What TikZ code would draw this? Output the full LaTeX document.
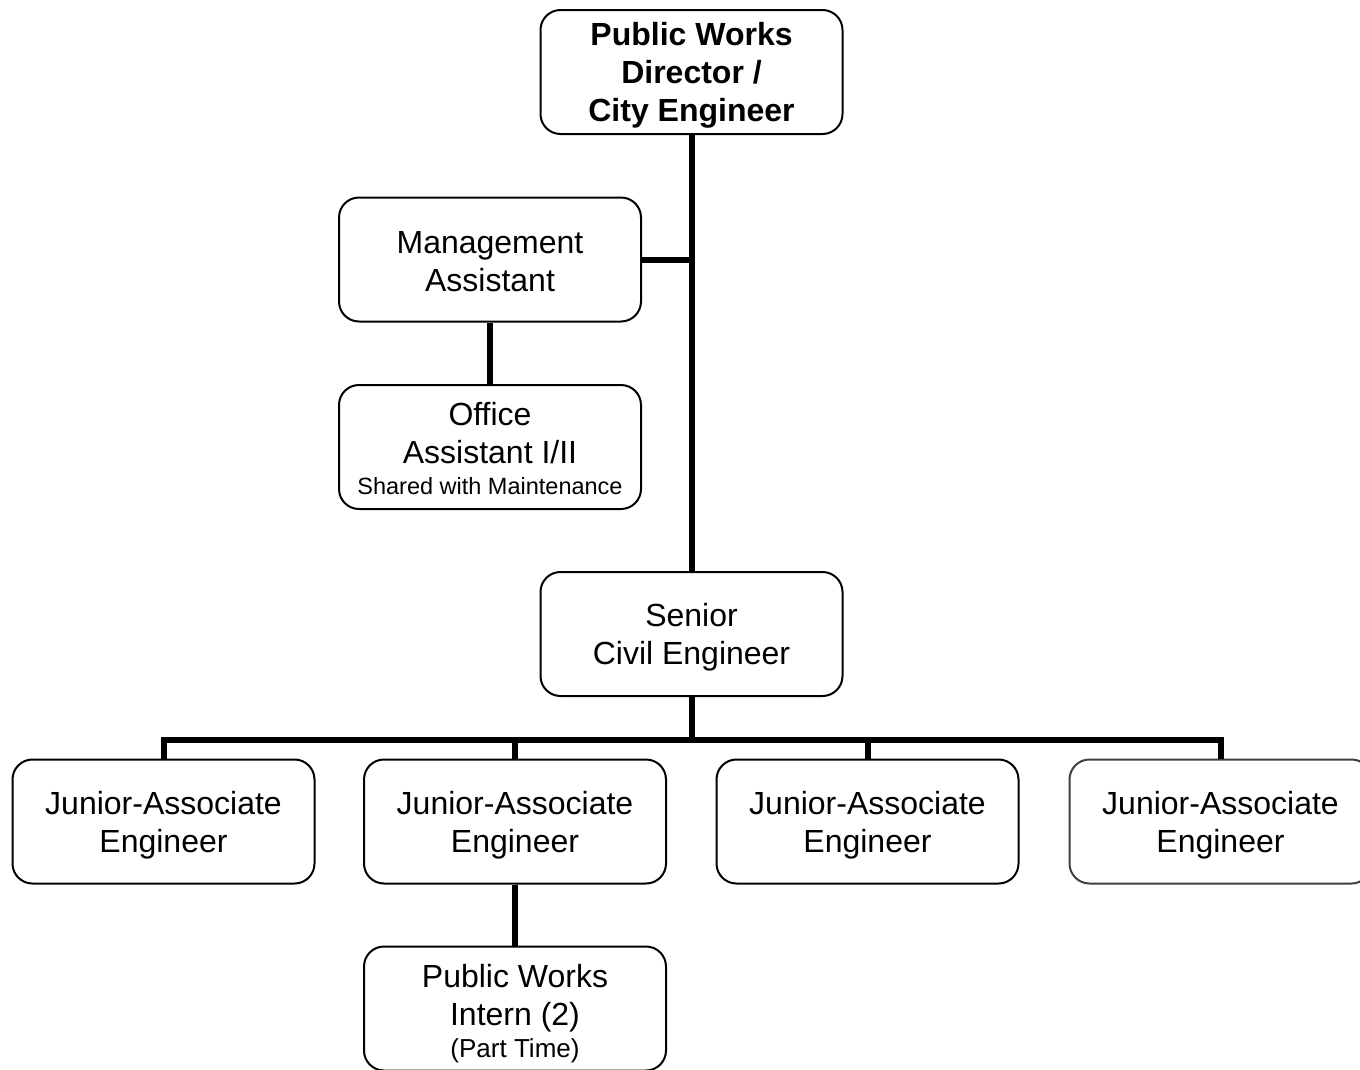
\documentclass[tikz,border=0pt]{standalone}
\usepackage{fontspec}
\setmainfont{Liberation Sans}
\begin{document}
\begin{tikzpicture}[x=1pt,y=-1pt,
  box/.style={draw, line width=2pt, rounded corners=20pt,
    minimum width=302pt, minimum height=124pt, inner sep=0pt},
  txt/.style={align=center, inner sep=0pt, yshift=-3.5pt,
    font=\fontsize{32}{38}\selectfont},
  link/.style={line width=6pt}]
\clip (0,0) rectangle (1360,1069);
\fill[white] (0,0) rectangle (1360,1069);

% boxes
\node[box, label={[txt, font=\fontsize{32}{38}\selectfont\bfseries]center:{Public Works\\Director /\\City Engineer}}] (top) at (691.5,72) {};
\node[box, label={[txt, yshift=1.5pt]center:{Management\\Assistant}}] (mgmt) at (490,259.5) {};
\node[box, label={[txt, yshift=1.5pt]center:{Office\\Assistant I/II\\[-7pt]{\fontsize{23.5}{26}\selectfont Shared with Maintenance}}}] (office) at (490,447) {};
\node[box, label={[txt]center:{Senior\\Civil Engineer}}] (senior) at (691.5,634) {};
\node[box, label={[txt]center:{Junior-Associate\\Engineer}}] (j1) at (163.5,821.5) {};
\node[box, label={[txt]center:{Junior-Associate\\Engineer}}] (j2) at (515,821.5) {};
\node[box, label={[txt]center:{Junior-Associate\\Engineer}}] (j3) at (867.5,821.5) {};
\node[box, draw=black!75, label={[txt]center:{Junior-Associate\\Engineer}}] (j4) at (1220.5,821.5) {};
\node[box, label={[txt, yshift=-2pt]center:{Public Works\\Intern (2)\\[-6pt]{\fontsize{26}{28}\selectfont (Part Time)}}}] (intern) at (515,1008.5) {};

% connectors
\coordinate (bus) at (691.5,740);
\draw[link] (top.south) -- (senior.north);
\draw[link] (mgmt.east) -- (mgmt.east -| top.south);
\draw[link] (mgmt.south) -- (office.north);
\draw[link] (senior.south) -- (bus);
\draw[link] (j1.north) |- (j4.north |- bus) -- (j4.north);
\draw[link] (j2.north |- bus) -- (j2.north);
\draw[link] (j3.north |- bus) -- (j3.north);
\draw[link] (j2.south) -- (intern.north);
\end{tikzpicture}
\end{document}
